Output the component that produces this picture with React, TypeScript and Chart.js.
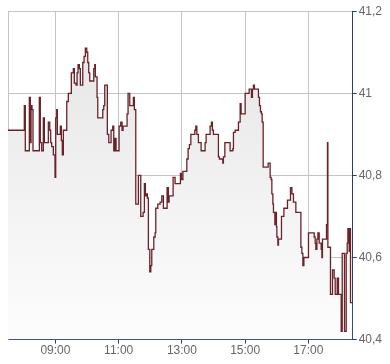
import React, { useEffect, useRef } from "react";
import { Chart, registerables } from "chart.js";

Chart.register(...registerables);

// time of trade (decimal hours)
const times: number[] = [
  7.5, 8.016, 8.047, 8.174, 8.206, 8.228, 8.259, 8.291, 8.491, 8.522,
  8.566, 8.617, 8.649, 8.775, 8.82, 8.851, 8.883, 8.934, 8.987, 9.009,
  9.041, 9.06, 9.155, 9.187, 9.218, 9.25, 9.358, 9.408, 9.503, 9.566,
  9.598, 9.652, 9.684, 9.715, 9.756, 9.788, 9.864, 9.905, 9.946, 9.991,
  10.022, 10.054, 10.085, 10.212, 10.244, 10.263, 10.316, 10.339, 10.497, 10.528,
  10.56, 10.642, 10.687, 10.759, 10.813, 10.845, 10.886, 10.918, 11.013, 11.066,
  11.108, 11.139, 11.266, 11.297, 11.351, 11.465, 11.497, 11.541, 11.623, 11.699,
  11.772, 11.813, 11.845, 11.877, 11.908, 11.94, 11.984, 12.016, 12.047, 12.111,
  12.152, 12.174, 12.237, 12.31, 12.364, 12.415, 12.532, 12.573, 12.595, 12.722,
  12.785, 12.953, 12.985, 13.032, 13.155, 13.196, 13.237, 13.282, 13.408, 13.44,
  13.472, 13.522, 13.608, 13.734, 13.766, 13.892, 13.934, 13.965, 13.997, 14.155,
  14.187, 14.294, 14.313, 14.358, 14.525, 14.611, 14.63, 14.684, 14.788, 14.842,
  14.873, 15.0, 15.127, 15.2, 15.231, 15.263, 15.294, 15.421, 15.453, 15.484,
  15.516, 15.538, 15.57, 15.728, 15.791, 15.823, 15.845, 15.877, 15.896, 15.94,
  15.949, 15.991, 16.003, 16.035, 16.054, 16.149, 16.225, 16.339, 16.434, 16.478,
  16.528, 16.604, 16.763, 16.794, 16.826, 16.858, 17.003, 17.184, 17.215, 17.237,
  17.269, 17.301, 17.342, 17.405, 17.427, 17.446, 17.573, 17.604, 17.617, 17.699,
  17.763, 17.816, 17.848, 17.911, 17.953, 18.038, 18.07, 18.142, 18.196, 18.228,
  18.25, 18.291, 18.313, 18.332, 18.39,
];

// price (EUR)
const prices: number[] = [
  40.91, 40.97, 40.86, 40.99, 40.88, 40.97, 40.96, 40.86, 40.99, 40.88,
  40.86, 40.94, 40.88, 40.93, 40.91, 40.88, 40.87, 40.85, 40.795, 40.94,
  40.96, 40.9, 40.92, 40.885, 40.85, 40.91, 40.98, 41.0, 41.05, 41.06,
  41.025, 41.02, 41.05, 41.07, 41.06, 41.02, 41.075, 41.09, 41.11, 41.1,
  41.075, 41.05, 41.03, 41.06, 41.07, 41.04, 40.99, 40.94, 40.96, 40.97,
  41.02, 40.9, 40.88, 40.91, 40.92, 40.86, 40.89, 40.86, 40.92, 40.93,
  40.91, 40.92, 40.95, 41.0, 40.97, 40.99, 40.96, 40.73, 40.8, 40.7,
  40.71, 40.78, 40.75, 40.755, 40.745, 40.62, 40.565, 40.58, 40.62, 40.65,
  40.66, 40.72, 40.73, 40.735, 40.75, 40.72, 40.77, 40.735, 40.75, 40.795,
  40.78, 40.805, 40.79, 40.81, 40.84, 40.865, 40.875, 40.9, 40.91, 40.92,
  40.9, 40.88, 40.86, 40.88, 40.9, 40.92, 40.93, 40.91, 40.9, 40.845,
  40.84, 40.83, 40.845, 40.88, 40.86, 40.865, 40.905, 40.91, 40.93, 40.975,
  40.95, 41.0, 41.01, 40.99, 41.01, 41.02, 41.01, 40.99, 40.97, 40.955,
  40.95, 40.93, 40.82, 40.83, 40.795, 40.79, 40.755, 40.73, 40.71, 40.68,
  40.71, 40.675, 40.65, 40.63, 40.645, 40.7, 40.72, 40.74, 40.77, 40.755,
  40.735, 40.71, 40.625, 40.61, 40.58, 40.6, 40.66, 40.65, 40.635, 40.62,
  40.645, 40.66, 40.635, 40.62, 40.6, 40.645, 40.68, 40.88, 40.625, 40.51,
  40.57, 40.55, 40.51, 40.55, 40.51, 40.42, 40.61, 40.42, 40.61, 40.635,
  40.67, 40.615, 40.67, 40.49, 40.49,
];

const xTickHours: number[] = [9, 11, 13, 15, 17];
const yTicks: number[] = [40.4, 40.6, 40.8, 41.0, 41.2];

const NAVY = "#23406e";
const GRID = "#c4c4c4";

const frame = {
  id: "frameLeft",
  beforeDatasetsDraw(chart: any) {
    const { ctx, chartArea } = chart;
    ctx.save();
    ctx.strokeStyle = GRID;
    ctx.lineWidth = 1;
    ctx.beginPath();
    const x = Math.round(chartArea.left) + 0.5;
    ctx.moveTo(x, chartArea.top);
    ctx.lineTo(x, chartArea.bottom);
    ctx.stroke();
    ctx.restore();
  },
};

export default function App() {
  const ref = useRef<HTMLCanvasElement | null>(null);
  useEffect(() => {
    if (!ref.current) return;
    const data = times.map((t, i) => ({ x: t, y: prices[i] }));
    const chart = new Chart(ref.current, {
      type: "line",
      data: {
        datasets: [
          {
            data,
            stepped: true,
            borderColor: "#6b2128",
            borderWidth: 1.3,
            pointRadius: 0,
            fill: "start",
            backgroundColor: (c: any) => {
              const { ctx, chartArea } = c.chart;
              if (!chartArea) return "#eeeeee";
              const g = ctx.createLinearGradient(0, chartArea.top, 0, chartArea.bottom);
              g.addColorStop(0, "#e4e4e4");
              g.addColorStop(1, "#fdfdfd");
              return g;
            },
          },
        ],
      },
      options: {
        animation: false,
        responsive: true,
        maintainAspectRatio: false,
        layout: { padding: { left: 0, top: 0, right: 0, bottom: 0 } },
        plugins: { legend: { display: false }, tooltip: { enabled: false } },
        scales: {
          x: {
            type: "linear",
            min: 7.5,
            max: 18.4,
            afterBuildTicks: (s: any) => {
              s.ticks = xTickHours.map((v) => ({ value: v }));
            },
            ticks: {
              autoSkip: false,
              maxRotation: 0,
              padding: 0,
              color: "#666",
              font: { family: "Liberation Sans, Arial", size: 12 },
              callback: (v: any) => String(v).padStart(2, "0") + ":00",
            },
            grid: { color: GRID, tickColor: NAVY, tickLength: 4, lineWidth: 1 },
            border: { display: true, color: NAVY, width: 1 },
          },
          y: {
            position: "right",
            min: 40.4,
            max: 41.2,
            afterBuildTicks: (s: any) => {
              s.ticks = yTicks.map((v) => ({ value: v }));
            },
            ticks: {
              padding: 2,
              color: "#666",
              font: { family: "Liberation Sans, Arial", size: 12 },
              callback: (v: any) => String(Math.round(Number(v) * 10) / 10).replace(".", ","),
            },
            grid: { color: GRID, tickColor: NAVY, tickLength: 4, lineWidth: 1 },
            border: { display: true, color: NAVY, width: 1 },
          },
        },
      },
      plugins: [frame],
    });
    return () => chart.destroy();
  }, []);
  return (
    <div style={{ position: "fixed", left: 8, top: 2, width: 376, height: 356 }}>
      <canvas ref={ref} />
    </div>
  );
}
